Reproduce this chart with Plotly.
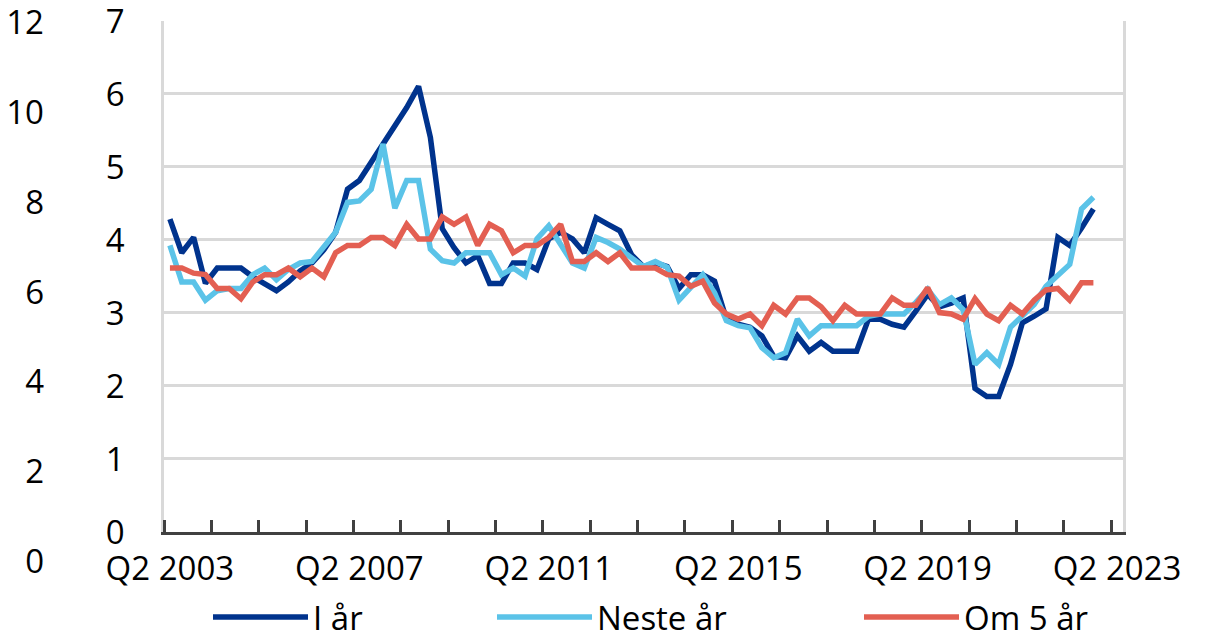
import plotly.graph_objects as go

# Quarterly categories, Q2 2003 .. Q2 2023 (axis), data through Q4 2022
categories = [f"Q{(1 + i) % 4 + 1} {2003 + (1 + i) // 4}" for i in range(81)]
tick_labels = ["Q2 2003", "Q2 2007", "Q2 2011", "Q2 2015", "Q2 2019", "Q2 2023"]

i_aar = [4.28, 3.82, 4.03, 3.40, 3.61, 3.61, 3.61, 3.49, 3.40, 3.30,
         3.42, 3.57, 3.68, 3.86, 4.10, 4.69, 4.81, 5.06, 5.33, 5.58,
         5.81, 6.10, 5.40, 4.15, 3.89, 3.68, 3.78, 3.40, 3.40, 3.68,
         3.68, 3.59, 4.01, 4.10, 4.01, 3.82, 4.30, 4.21, 4.12, 3.79,
         3.63, 3.68, 3.63, 3.33, 3.52, 3.52, 3.43, 2.91, 2.84, 2.80,
         2.68, 2.40, 2.38, 2.68, 2.47, 2.59, 2.47, 2.47, 2.47, 2.91,
         2.91, 2.84, 2.80, 3.02, 3.25, 3.08, 3.13, 3.20, 1.96, 1.85,
         1.85, 2.29, 2.86, 2.95, 3.05, 4.03, 3.92, 4.16, 4.42]

neste_aar = [3.92, 3.42, 3.42, 3.17, 3.30, 3.33, 3.33, 3.52, 3.61, 3.45,
             3.59, 3.68, 3.70, 3.89, 4.10, 4.51, 4.53, 4.69, 5.31, 4.43,
             4.81, 4.81, 3.87, 3.71, 3.68, 3.82, 3.82, 3.82, 3.52, 3.61,
             3.50, 4.01, 4.19, 3.94, 3.68, 3.61, 4.03, 3.96, 3.87, 3.75,
             3.63, 3.70, 3.62, 3.17, 3.34, 3.52, 3.27, 2.89, 2.82, 2.79,
             2.52, 2.38, 2.45, 2.91, 2.68, 2.82, 2.82, 2.82, 2.82, 2.95,
             2.98, 2.98, 2.98, 3.14, 3.32, 3.11, 3.20, 3.04, 2.29, 2.45,
             2.29, 2.80, 2.95, 3.11, 3.36, 3.50, 3.66, 4.42, 4.58]

om_5_aar = [3.61, 3.61, 3.54, 3.52, 3.33, 3.33, 3.19, 3.42, 3.52, 3.52,
            3.61, 3.49, 3.61, 3.49, 3.82, 3.92, 3.92, 4.03, 4.03, 3.92,
            4.21, 4.01, 4.01, 4.31, 4.21, 4.31, 3.92, 4.21, 4.12, 3.82,
            3.92, 3.92, 4.03, 4.21, 3.70, 3.70, 3.82, 3.70, 3.82, 3.61,
            3.61, 3.61, 3.52, 3.50, 3.36, 3.43, 3.13, 2.98, 2.91, 2.98,
            2.82, 3.10, 2.98, 3.20, 3.20, 3.08, 2.89, 3.10, 2.98, 2.98,
            2.98, 3.20, 3.10, 3.10, 3.34, 3.00, 2.98, 2.91, 3.19, 2.98,
            2.89, 3.10, 2.98, 3.17, 3.31, 3.33, 3.17, 3.41, 3.41]

series_names = ["I år", "Neste år", "Om 5 år"]
series_colors = ["#00338D", "#5BC3E8", "#E35F52"]

left_ticks = [0, 2, 4, 6, 8, 10, 12]
right_ticks = [0, 1, 2, 3, 4, 5, 6, 7]

FONT = "Open Sans"
FS = 33

pos = {c: k for k, c in enumerate(categories)}
label_pos = [pos[t] for t in tick_labels]

fig = go.Figure()
legends = ["legend", "legend2", "legend3"]
for name, vals, col, lg in zip(series_names, [i_aar, neste_aar, om_5_aar], series_colors, legends):
    xs = [pos[c] for c in categories[:len(vals)]]
    fig.add_trace(go.Scatter(x=xs, y=vals, mode="lines", name=name,
                             line=dict(color=col, width=5.5), legend=lg,
                             hoverinfo="skip"))

# dummy trace for the outer (0-12) axis
fig.add_trace(go.Scatter(x=[None], y=[None], yaxis="y2", showlegend=False,
                         hoverinfo="skip"))

H = 633
paper_top = 15
paper_bot = 573
paper_h = paper_bot - paper_top
dom_bot = (paper_bot - 531.5) / paper_h
dom_top = (paper_bot - 20.7) / paper_h

leg_common = dict(orientation="h", yanchor="middle", xanchor="left",
                  font=dict(family=FONT, size=FS, color="#000000"),
                  bgcolor="rgba(0,0,0,0)", itemwidth=95, borderwidth=0)
ly = (paper_bot - 617) / paper_h

fig.update_layout(
    width=1207, height=633,
    margin=dict(l=164, r=84, t=paper_top, b=H - paper_bot, autoexpand=False),
    paper_bgcolor="white", plot_bgcolor="rgba(0,0,0,0)",
    font=dict(family=FONT, size=FS, color="#000000"),
    xaxis=dict(range=[-0.5, 80.5], tickmode="array", tickvals=label_pos,
               ticktext=tick_labels, ticks="", showgrid=False, zeroline=False,
               showline=True, linecolor="#404040", linewidth=2.5,
               ticklabelstandoff=6, ticklabeloverflow="allow",
               minor=dict(tickmode="array",
                          tickvals=[k - 0.5 for k in range(0, 81, 4)],
                          ticks="inside", ticklen=12, tickwidth=2.5,
                          tickcolor="#404040", showgrid=False)),
    yaxis=dict(domain=[dom_bot, dom_top], range=[0, 7], tickvals=right_ticks,
               ticks="", showgrid=True, gridcolor="#D9D9D9", gridwidth=2.5,
               zeroline=False, showline=True, linecolor="#D9D9D9",
               linewidth=2.5, mirror=True, ticklabelstandoff=30,
               ticklabelshift=1, ticklabeloverflow="allow"),
    yaxis2=dict(domain=[0, 1], anchor="x",
                range=[(561.5 - paper_bot) / 44.9, (561.5 - paper_top) / 44.9],
                tickvals=left_ticks, ticks="", showgrid=False, zeroline=False,
                showline=False, ticklabelstandoff=119, ticklabelshift=0,
                ticklabeloverflow="allow"),
    showlegend=True,
    legend=dict(x=(208 - 164) / 959, y=ly, **leg_common),
    legend2=dict(x=(492 - 164) / 959, y=ly, **leg_common),
    legend3=dict(x=(859 - 164) / 959, y=ly, **leg_common),
)

fig.write_html("out.html", config={"displayModeBar": False},
               post_script="document.body.style.margin='0';document.body.style.overflow='hidden';")
